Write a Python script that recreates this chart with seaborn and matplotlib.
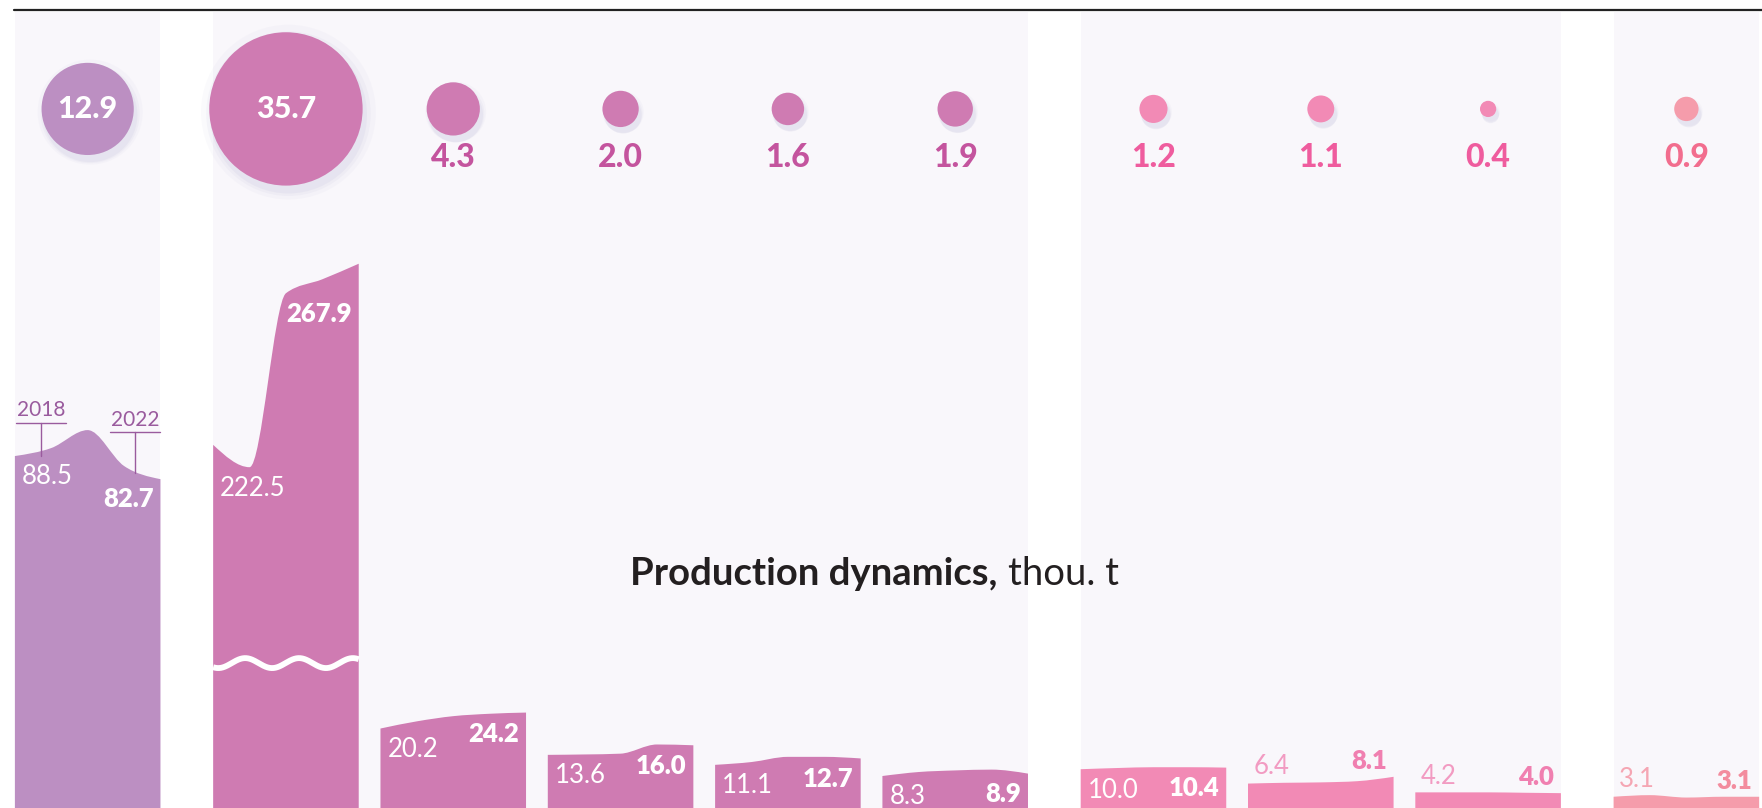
import numpy as np
import pandas as pd
import matplotlib
matplotlib.use("Agg")
import matplotlib.pyplot as plt
from matplotlib.path import Path
from matplotlib.patches import PathPatch
import seaborn as sns

prod_2018 = [88.5, 222.5, 20.2, 13.6, 11.1, 8.3, 10.0, 6.4, 4.2, 3.1]
prod_2019 = [90.5, 216.9, 22.0, 13.7, 11.8, 9.3, 10.3, 6.6, 4.2, 3.5]
prod_2020 = [95.0, 260.5, 23.3, 13.9, 13.1, 9.7, 10.5, 6.7, 4.2, 2.9]
prod_2021 = [86.0, 264.0, 23.9, 16.2, 13.1, 9.9, 10.5, 7.0, 4.1, 3.1]
prod_2022 = [82.7, 267.9, 24.2, 16.0, 12.7, 8.9, 10.4, 8.1, 4.0, 3.1]
bubble_vals = [12.9, 35.7, 4.3, 2.0, 1.6, 1.9, 1.2, 1.1, 0.4, 0.9]
group = [0, 1, 1, 1, 1, 1, 2, 2, 2, 3]

bar_colors = ["#BC8FC2", "#CF7BB2", "#F28AB5", "#F59CAB"]
num_colors = [None, "#C4549E", "#EF5C9E", "#F26D8E"]
out_light = ["#F29BC2", "#F29BC2", "#F29BC2", "#F5A6B3"]
out_bold = ["#F07FB0", "#F07FB0", "#F07FB0", "#F38C9E"]

GAP, HALF = 0.185, 0.435
BREAK = 131.2          # axis break for the second column
WAVE_Y = 36.6
Y_BUB, Y_BUB_LBL = 175.5, 163.4

sns.set_theme(style="white")
plt.rcParams["font.family"] = ["Lato", "DejaVu Sans"]


def monotone_slopes(x, y):
    # Fritsch-Carlson style tangents, like d3.curveMonotoneX
    h = np.diff(x)
    s = np.diff(y) / h
    m = np.zeros_like(y)
    for k in range(1, len(y) - 1):
        if s[k - 1] * s[k] > 0:
            m[k] = (np.sign(s[k - 1]) * min(abs(s[k - 1]), abs(s[k]), 0.5 * abs((s[k - 1] * h[k] + s[k] * h[k - 1]) / (h[k - 1] + h[k]))) * 2)
    m[0] = (3 * s[0] - m[1]) / 2 if len(y) > 2 else s[0]
    m[-1] = (3 * s[-1] - m[-2]) / 2
    return m


fig = plt.figure(figsize=(17.62, 8.08), dpi=100)
ax = fig.add_axes([0, 0, 1, 1])
ax.set_xlim(-0.524, 10.007)
ax.set_ylim(0.28, 202.8)
ax.axis("off")

pos = np.arange(len(prod_2018)) + GAP * np.array(group)

# panel backgrounds
for g in sorted(set(group)):
    p = pos[np.array(group) == g]
    ax.axvspan(p.min() - HALF, p.max() + HALF, ymin=0, ymax=0.985, color="#F9F7FB", lw=0, zorder=0)

ax.plot([0.008, 1], [0.9876, 0.9876], transform=ax.transAxes, color="#222222", lw=1.6, zorder=5)

years = np.array([prod_2018, prod_2019, prod_2020, prod_2021, prod_2022]).T

for i, (c, vals) in enumerate(zip(pos, years)):
    g = group[i]
    shown = vals - (BREAK if i == 1 else 0)
    left, right = c - HALF, c + HALF
    xs = np.linspace(left, right, 5)
    m = monotone_slopes(xs, shown)
    verts = [(left, -5), (xs[0], shown[0])]
    codes = [Path.MOVETO, Path.LINETO]
    for k in range(4):
        d = (xs[k + 1] - xs[k]) / 3
        verts += [(xs[k] + d, shown[k] + m[k] * d), (xs[k + 1] - d, shown[k + 1] - m[k + 1] * d),
                  (xs[k + 1], shown[k + 1])]
        codes += [Path.CURVE4] * 3
    verts += [(right, -5), (left, -5)]
    codes += [Path.LINETO, Path.CLOSEPOLY]
    ax.add_patch(PathPatch(Path(verts, codes), facecolor=bar_colors[g], lw=0, zorder=2))

    if i == 1:
        f = np.linspace(0, 1, 300)
        ax.plot(left + f * (right - left), WAVE_Y + 1.25 * np.cos(2 * np.pi * (f - 0.22) / 0.37),
                color="white", lw=4.2, zorder=3, solid_capstyle="butt")

    l_txt, r_txt = f"{vals[0]:.1f}", f"{vals[-1]:.1f}"
    k0 = 2 if len(r_txt) > 4 else 3
    if min(vals[0], vals[-1]) >= 8:
        ax.annotate(l_txt, (left, min(shown[0], shown[1])), xytext=(5, -6), textcoords="offset points",
                    ha="left", va="top", color="white", fontsize=18.5, fontweight="normal", zorder=4)
        ax.annotate(r_txt, (right, min(shown[k0:])), xytext=(-5, -6), textcoords="offset points",
                    ha="right", va="top", color="white", fontsize=18.5, fontweight="heavy", zorder=4)
    else:
        ax.annotate(l_txt, (left, max(shown[0], shown[1])), xytext=(4, 2.5), textcoords="offset points",
                    ha="left", va="bottom", color=out_light[g], fontsize=18.5, fontweight="normal", zorder=4)
        ax.annotate(r_txt, (right, max(shown[3], shown[4])), xytext=(-5, 2.5), textcoords="offset points",
                    ha="right", va="bottom", color=out_bold[g], fontsize=18.5, fontweight="heavy", zorder=4)

# year markers on the first column
c0 = pos[0]
ann_col = "#9A5B9E"
for x, y_text, y_bot, lbl in [(c0 - HALF + 0.155, 96.9, prod_2018[0], "2018"),
                              (c0 + HALF - 0.15, 94.4, (prod_2021[0] + prod_2022[0]) / 2, "2022")]:
    ax.plot([x, x], [y_text, y_bot], color=ann_col, lw=1, zorder=4)
    ax.plot([x - 0.15, x + 0.15], [y_text, y_text], color=ann_col, lw=1, zorder=4)
    ax.annotate(lbl, (x, y_text), xytext=(0, 2), textcoords="offset points", ha="center", va="bottom",
                color=ann_col, fontsize=15, fontweight="normal")

# bubbles: area proportional to value
bub = pd.DataFrame({"pos": pos, "y": Y_BUB, "v": bubble_vals, "g": group})
vmin, vmax = min(bubble_vals), max(bubble_vals)
for off, extra, a in [(0.8, 1.3, 0.06), (1.2, 1.15, 0.09), (1.5, 1.05, 0.12)]:
    ax.scatter(bub["pos"] + 0.015, bub["y"] - off, s=341.5 * bub["v"] * extra, color="#B3B1D4",
               alpha=a, lw=0, zorder=1)
sns.scatterplot(data=bub, x="pos", y="y", size="v", sizes=(341.5 * vmin, 341.5 * vmax), size_norm=(vmin, vmax),
                hue="g", palette={g: bar_colors[g] for g in range(4)}, legend=False, linewidth=0, ax=ax, zorder=3)
ax.set_xlabel("")
ax.set_ylabel("")
for i, v in enumerate(bubble_vals):
    g = group[i]
    if v > 10:
        ax.text(pos[i], Y_BUB, f"{v:.1f}", ha="center", va="center", color="white",
                fontsize=22, fontweight="black", zorder=4)
    else:
        ax.text(pos[i], Y_BUB_LBL, f"{v:.1f}", ha="center", va="center", color=num_colors[g],
                fontsize=23, fontweight="black", zorder=4)

fig.text(0.5663, 0.2754, "Production dynamics,", ha="right", va="baseline", fontsize=27.5,
         fontweight="bold", color="#231F20")
fig.text(0.572, 0.2754, "thou. t", ha="left", va="baseline", fontsize=27.5, fontweight="normal", color="#231F20")

fig.savefig("out.png", dpi=100)
